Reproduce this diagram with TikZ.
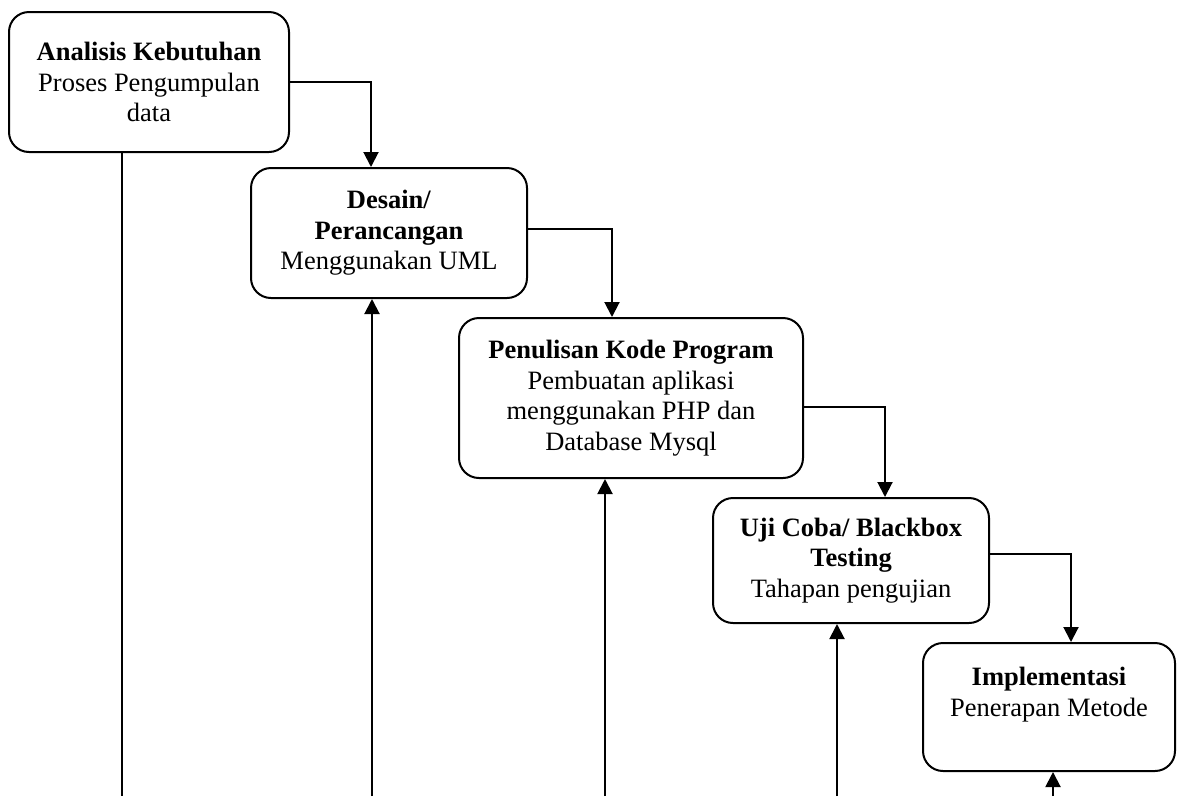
\documentclass[tikz,border=0pt]{standalone}
\usepackage{fontspec}
\setmainfont{Liberation Serif}
\usetikzlibrary{calc,arrows.meta}
\newcommand{\phase}[5]{\node [phasebox,minimum width=#3pt,minimum height=#4pt] (#1) at #2 {#5};}

\begin{document}
\begin{tikzpicture}[x=1pt,y=-1pt,line width=2pt,
    phasebox/.style={draw,rounded corners=20pt,align=center,inner sep=0pt,
      font=\fontsize{26.5}{30.5}\selectfont},
    flow/.style={-{Triangle[width=15pt,length=15pt]}}]
        \useasboundingbox (0,0) rectangle (1177,796);
        \phase{analisis}{(149,82)}{280}{140}{\textbf{Analisis Kebutuhan}\\Proses Pengumpulan\\data}
        \phase{desain}{(389,233)}{276}{130}{\textbf{Desain/}\\\textbf{Perancangan}\\Menggunakan UML}
        \phase{kode}{(631,398)}{344}{160}{\textbf{Penulisan Kode Program}\\Pembuatan aplikasi\\menggunakan PHP dan\\Database Mysql}
        \phase{uji}{(851,560.5)}{276}{125}{\textbf{Uji Coba/ Blackbox}\\\textbf{Testing}\\Tahapan pengujian}
        \phase{implementasi}{(1049,707)}{252}{128}{\textbf{Implementasi}\\Penerapan Metode\\\mbox{}}
        \draw[flow] (analisis.east) -| ($(desain.north)+(-18,0)$);
        \draw[flow] ($(desain.east)+(0,-4)$) -| ($(kode.north)+(-19,0)$);
        \draw[flow] ($(kode.east)+(0,9)$) -| ($(uji.north)+(34,0)$);
        \draw[flow] ($(uji.east)+(0,-7)$) -| ($(implementasi.north)+(22,0)$);
        \coordinate (baseA) at (122,796);
        \coordinate (baseB) at (372,796);
        \coordinate (baseC) at (605,796);
        \coordinate (baseD) at (837,796);
        \coordinate (baseE) at (1053,796);
        \draw (analisis.south -| baseA) -- (baseA);
        \draw[flow] (baseB) -- (baseB |- desain.south);
        \draw[flow] (baseC) -- (baseC |- kode.south);
        \draw[flow] (baseD) -- (baseD |- uji.south);
        \draw[flow] (baseE) -- (baseE |- implementasi.south);
      \end{tikzpicture}
\end{document}
